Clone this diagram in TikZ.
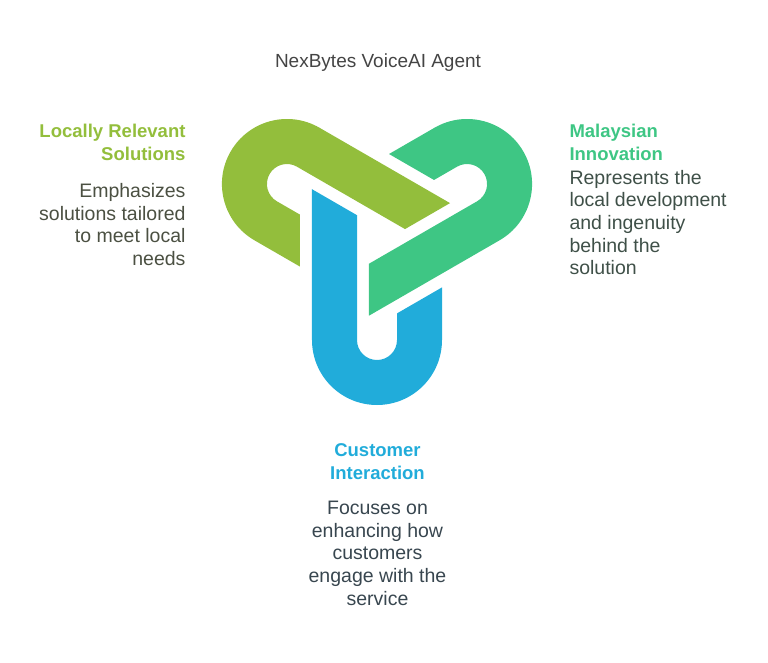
\documentclass[tikz,border=0pt]{standalone}
\usepackage{fontspec}
\setmainfont{Liberation Sans}
\definecolor{limelink}{RGB}{147,190,60}
\definecolor{greenlink}{RGB}{62,198,132}
\definecolor{bluelink}{RGB}{33,172,218}
\definecolor{limetext}{RGB}{75,80,66}
\definecolor{greentext}{RGB}{63,80,72}
\definecolor{bluetext}{RGB}{56,70,79}
\definecolor{titletext}{RGB}{68,68,68}

\begin{document}
\begin{tikzpicture}[x=1pt,y=1pt,
  head/.style={font=\fontsize{18.5}{22.7}\selectfont\bfseries, inner sep=0pt},
  body/.style={font=\fontsize{19.5}{22.7}\selectfont, inner sep=0pt}]
  \useasboundingbox (-377,-426) rectangle (391,236);
  % the three interlocking links
  \foreach \a/\c in {0/bluelink,120/greenlink,240/limelink}
    \fill[\c, rotate=\a] (-65,46.8) -- (-65,-104) arc[start angle=180,end angle=360,radius=65pt]
      -- (65,-51.4) -- (20,-77.4) -- (20,-104) arc[start angle=0,end angle=-180,radius=20pt]
      -- (-20,20.8) -- cycle;
  % title
  \node[anchor=base, text=titletext, font=\fontsize{19}{22}\selectfont] (title) at (1,169) {NexBytes VoiceAI Agent};
  % left (base = last line)
  \node[head, text=limelink, align=right, anchor=base east] (localhead) at (-191.3,76) {Locally Relevant\\Solutions};
  \node[body, text=limetext, align=right, anchor=base east] (localtext) at (-191.3,-29.4) {Emphasizes\\solutions tailored\\to meet local\\needs};
  % right
  \node[head, text=greenlink, align=left, anchor=base west] (malayhead) at (192.3,76) {Malaysian\\Innovation};
  \node[body, text=greentext, align=left, anchor=base west] (malaytext) at (192.3,-38.8) {Represents the\\local development\\and ingenuity\\behind the\\solution};
  % bottom
  \node[head, text=bluelink, align=center, anchor=base] (custhead) at (0.5,-243.3) {Customer\\Interaction};
  \node[body, text=bluetext, align=center, anchor=base] (custtext) at (0.5,-369.1) {Focuses on\\enhancing how\\customers\\engage with the\\service};
\end{tikzpicture}
\end{document}
